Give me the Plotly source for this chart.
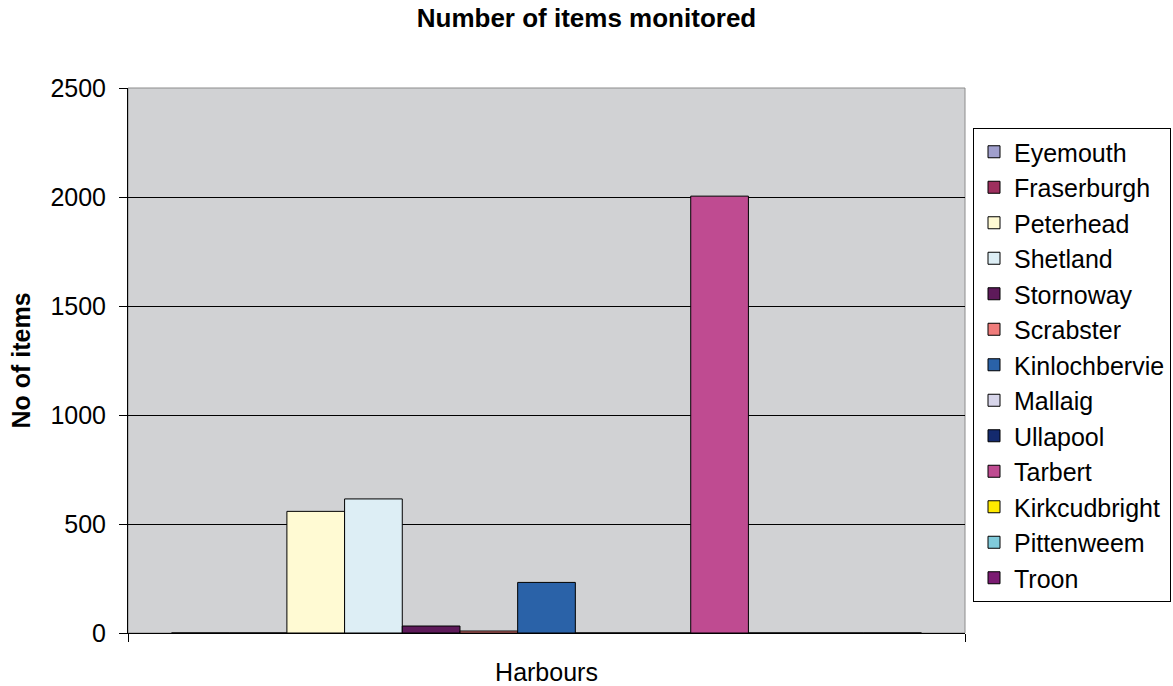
import plotly.graph_objects as go

# Harbour litter monitoring: number of items per harbour
category = ["Harbours"]
harbours = ["Eyemouth", "Fraserburgh", "Peterhead", "Shetland", "Stornoway",
            "Scrabster", "Kinlochbervie", "Mallaig", "Ullapool", "Tarbert",
            "Kirkcudbright", "Pittenweem", "Troon"]
items = [0, 0, 558, 615, 32, 9, 232, 0, 0, 2004, 0, 0, 0]
colors = ["#a09fcd", "#9e2f5e", "#fffad3", "#ddeef5", "#5e1a5a", "#f07c7b",
          "#2a62a8", "#d7d5ea", "#142a6e", "#bf4b91", "#ffea00", "#80cbdb",
          "#7b1b72"]
y_ticks = [0, 500, 1000, 1500, 2000, 2500]

FONT = "Liberation Sans, Arial, sans-serif"

# plotting-area box in pixels
L, R, T, B = 128, 965, 88, 633
W, H = 1173, 686

fig = go.Figure()
for name, val, col in zip(harbours, items, colors):
    fig.add_trace(go.Bar(
        x=category, y=[val], name=name,
        marker=dict(color=col, line=dict(color="#000000", width=1)),
    ))

fig.update_layout(
    width=W, height=H,
    margin=dict(l=L, r=W - R, t=T, b=H - B, autoexpand=False),
    paper_bgcolor="white",
    plot_bgcolor="#d1d2d4",
    barmode="group",
    bargap=0.104,
    bargroupgap=0,
    font=dict(family=FONT, color="black", size=25),
    title=dict(text="<b>Number of items monitored</b>", x=0.5, xanchor="center",
               y=1 - 18 / H, yanchor="middle",
               font=dict(family=FONT, size=26, color="black")),
    legend=dict(
        x=(973 - L) / (R - L), xanchor="left",
        y=(B - 128) / (B - T), yanchor="top",
        bgcolor="white", bordercolor="black", borderwidth=1,
        font=dict(family=FONT, size=25, color="black"),
        traceorder="normal",
    ),
    xaxis=dict(
        type="category", range=[-0.5, 0.5], automargin=False,
        showline=True, linecolor="black", linewidth=1,
        ticks="outside", tickson="boundaries", ticklen=8, tickcolor="black",
        showticklabels=False, showgrid=False,
        title=dict(text="Harbours", standoff=30,
                   font=dict(family=FONT, size=25, color="black")),
    ),
    yaxis=dict(
        range=[0, 2500], tickvals=y_ticks, automargin=False,
        showline=True, linecolor="black", linewidth=1,
        ticks="outside", ticklen=8, tickcolor="black",
        ticklabelstandoff=8,
        gridcolor="#000000", gridwidth=1, zeroline=False,
        tickfont=dict(family=FONT, size=25, color="black"),
        title=dict(text="<b>No of items</b>", standoff=12,
                   font=dict(family=FONT, size=25, color="black")),
    ),
)

# grey border around the plotting area
fig.add_shape(type="rect", xref="paper", yref="paper", x0=0, y0=0, x1=1, y1=1,
              line=dict(color="#8c8c8c", width=1), layer="below")

fig.write_html("out.html")
